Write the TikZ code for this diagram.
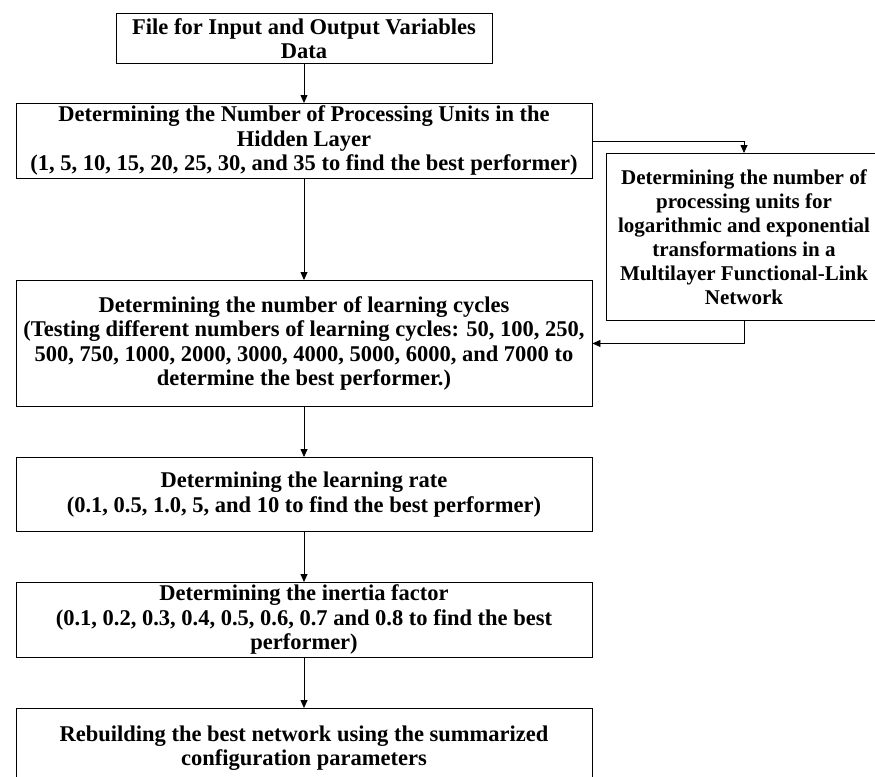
\documentclass[tikz,border=0pt]{standalone}
\usepackage{fontspec}
\setmainfont{Liberation Serif}
\usetikzlibrary{arrows.meta}
\tikzset{
  box/.style={draw=black, line width=0.9pt, rectangle, inner sep=0pt, anchor=north,
    align=center, font=\bfseries\fontsize{22.5}{24.5}\selectfont},
  sidebox/.style={box, font=\bfseries\fontsize{21}{24}\selectfont},
  arr/.style={draw=black, line width=0.8pt, -{Triangle[length=8pt,width=7pt]}}
}
\begin{document}
\begin{tikzpicture}[x=1pt,y=-1pt]
\useasboundingbox (0,0) rectangle (875,776);
\node[box, minimum width=376pt, minimum height=50pt] (b1) at (304,13)
  {File for Input and Output Variables\\Data};
\node[box, minimum width=576pt, minimum height=75pt] (b2) at (304,103)
  {Determining the Number of Processing Units in the\\Hidden Layer\\(1, 5, 10, 15, 20, 25, 30, and 35 to find the best performer)};
\node[box, minimum width=576pt, minimum height=126pt] (b3) at (304,280)
  {Determining the number of learning cycles\\(Testing different numbers of learning cycles: 50, 100, 250,\\500, 750, 1000, 2000, 3000, 4000, 5000, 6000, and 7000 to\\determine the best performer.)};
\node[box, minimum width=576pt, minimum height=74pt] (b4) at (304,457)
  {Determining the learning rate\\(0.1, 0.5, 1.0, 5, and 10 to find the best performer)};
\node[box, minimum width=576pt, minimum height=75pt] (b5) at (304,582)
  {Determining the inertia factor\\(0.1, 0.2, 0.3, 0.4, 0.5, 0.6, 0.7 and 0.8 to find the best\\performer)};
\node[box, minimum width=576pt, inner ysep=17pt] (b6) at (304,708)
  {Rebuilding the best network using the summarized\\configuration parameters};
\node[sidebox, minimum width=276pt, minimum height=167pt] (side) at (744,153)
  {Determining the number of\\processing units for\\logarithmic and exponential\\transformations in a\\Multilayer Functional-Link\\Network};
\draw[arr] (b1.south) -- (b2.north);
\draw[arr] (b2.south) -- (b3.north);
\draw[arr] (b3.south) -- (b4.north);
\draw[arr] (b4.south) -- (b5.north);
\draw[arr] (b5.south) -- (b6.north);
\draw[arr] (b2.east) -| (side.north);
\draw[arr] (side.south) |- (b3.east);
\end{tikzpicture}
\end{document}
